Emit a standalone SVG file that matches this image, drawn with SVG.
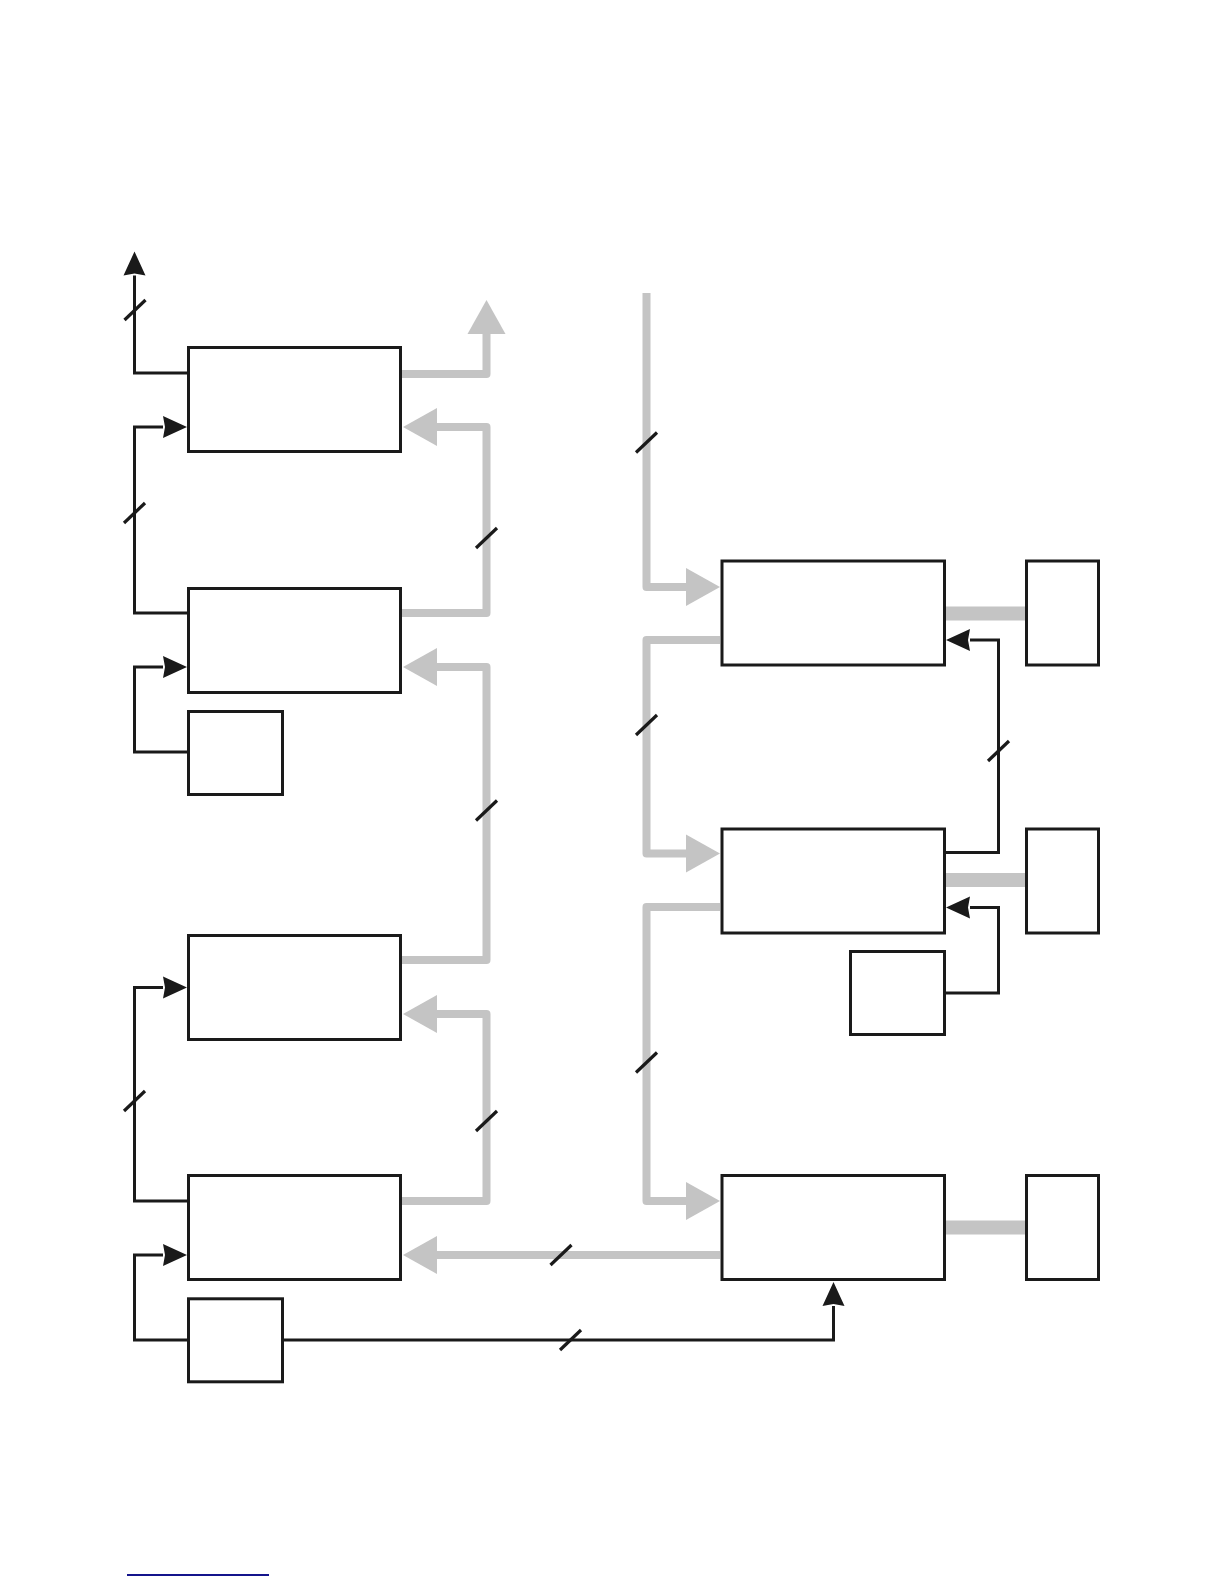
<svg xmlns="http://www.w3.org/2000/svg" xmlns:xlink="http://www.w3.org/1999/xlink" width="1224" height="1584" viewBox="0 0 1224 1584">
<style>
.box{fill:#ffffff;stroke:#1a1a1a;stroke-width:3}
.bk{fill:none;stroke:#1a1a1a;stroke-width:3;stroke-linejoin:miter}
.gr{fill:none;stroke:#c4c4c4;stroke-width:8;stroke-linejoin:round}
.thick{fill:none;stroke:#c4c4c4;stroke-width:14}
.sl{fill:none;stroke:#1a1a1a;stroke-width:3.2}
</style>
<defs>
<marker id="ab" markerUnits="userSpaceOnUse" markerWidth="24" markerHeight="22" refX="0" refY="11" orient="auto" overflow="visible">
<path d="M0,0 L24,11 L0,22 L2,11 z" fill="#1a1a1a"/>
</marker>
<marker id="ag" markerUnits="userSpaceOnUse" markerWidth="34" markerHeight="38" refX="0" refY="19" orient="auto" overflow="visible">
<path d="M0,0 L34,19 L0,38 z" fill="#c4c4c4"/>
</marker>
<path id="slash" d="M-10.5,10 L10.5,-10" class="sl"/>
</defs>
<rect width="1224" height="1584" fill="#ffffff"/>

<g id="connectors">
<!-- gray connectors -->
<path class="gr" d="M402,374 H486.5 V334" marker-end="url(#ag)"/>
<path class="gr" d="M402,613 H486.5 V427 H437" marker-end="url(#ag)"/>
<path class="gr" d="M402,960 H486.5 V667 H437" marker-end="url(#ag)"/>
<path class="gr" d="M402,1201 H486.5 V1014 H437" marker-end="url(#ag)"/>
<path class="gr" d="M720,1255 H437" marker-end="url(#ag)"/>
<path class="gr" style="stroke-linecap:butt" d="M646.5,293 V587 H686" marker-end="url(#ag)"/>
<path class="gr" d="M720,640 H646.5 V853.5 H686" marker-end="url(#ag)"/>
<path class="gr" d="M720,907 H646.5 V1201 H686" marker-end="url(#ag)"/>
<path class="thick" d="M945,613.5 H1025"/>
<path class="thick" d="M945,880 H1025"/>
<path class="thick" d="M945,1227.5 H1025"/>
<!-- black connectors -->
<path class="bk" d="M187,373 H134.5 V275.5" marker-end="url(#ab)"/>
<path class="bk" d="M187,613 H134.5 V427 H163" marker-end="url(#ab)"/>
<path class="bk" d="M187,752 H134.5 V667 H163" marker-end="url(#ab)"/>
<path class="bk" d="M187,1201 H134.5 V987.5 H163" marker-end="url(#ab)"/>
<path class="bk" d="M187,1340 H134.5 V1255 H163" marker-end="url(#ab)"/>
<path class="bk" d="M284,1340 H833.5 V1306" marker-end="url(#ab)"/>
<path class="bk" d="M945.5,852.5 H998.5 V640 H970" marker-end="url(#ab)"/>
<path class="bk" d="M945.5,993 H998.5 V907.5 H970" marker-end="url(#ab)"/>
<!-- bus-width slashes -->
<use xlink:href="#slash" x="135" y="310"/>
<use xlink:href="#slash" x="134.5" y="513"/>
<use xlink:href="#slash" x="134.5" y="1101"/>
<use xlink:href="#slash" x="570.5" y="1340"/>
<use xlink:href="#slash" x="998.5" y="751"/>
<use xlink:href="#slash" x="486.5" y="538"/>
<use xlink:href="#slash" x="486.5" y="810.5"/>
<use xlink:href="#slash" x="486.5" y="1121"/>
<use xlink:href="#slash" x="646.5" y="442.5"/>
<use xlink:href="#slash" x="646.5" y="725"/>
<use xlink:href="#slash" x="646.5" y="1062.5"/>
<use xlink:href="#slash" x="561" y="1255"/>
</g>

<g id="box1"><rect class="box" x="188.5" y="347.5" width="212" height="104"/></g>
<g id="box2"><rect class="box" x="188.5" y="588.5" width="212" height="104"/></g>
<g id="smallA"><rect class="box" x="188.5" y="711.5" width="94" height="83"/></g>
<g id="box3"><rect class="box" x="188.5" y="935.5" width="212" height="104"/></g>
<g id="box4"><rect class="box" x="188.5" y="1175.5" width="212" height="104"/></g>
<g id="smallB"><rect class="box" x="188.5" y="1298.8" width="94" height="83"/></g>
<g id="box5"><rect class="box" x="722" y="561" width="222.5" height="104"/></g>
<g id="side5"><rect class="box" x="1026.5" y="561" width="72" height="104"/></g>
<g id="box6"><rect class="box" x="722" y="829" width="222.5" height="104"/></g>
<g id="side6"><rect class="box" x="1026.5" y="829" width="72" height="104"/></g>
<g id="smallC"><rect class="box" x="850.5" y="951.5" width="94" height="83"/></g>
<g id="box7"><rect class="box" x="722" y="1175.5" width="222.5" height="104"/></g>
<g id="side7"><rect class="box" x="1026.5" y="1175.5" width="72" height="104"/></g>

<line x1="127" y1="1575" x2="269" y2="1575" stroke="#14148c" stroke-width="2"/>
</svg>
